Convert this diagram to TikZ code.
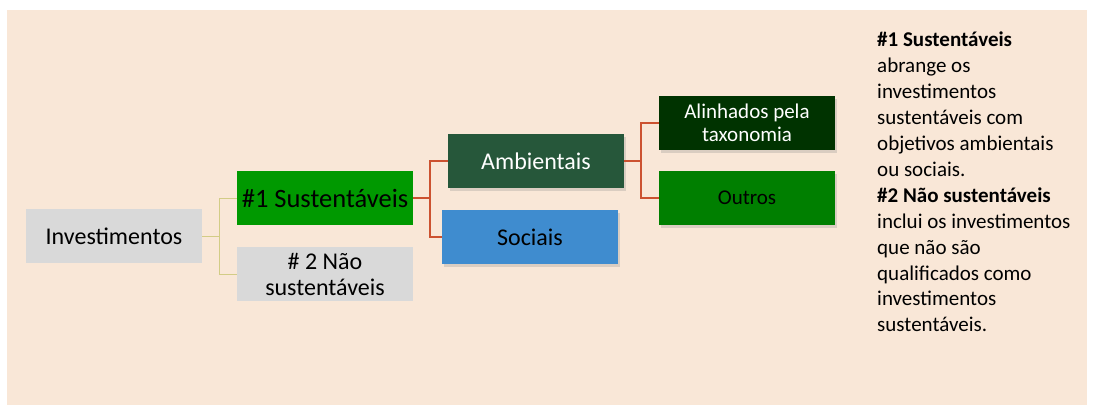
\documentclass[tikz,border=0pt]{standalone}
\usepackage{fontspec}
\setmainfont{Carlito}
\usetikzlibrary{shadows}
\definecolor{fundo}{HTML}{F9E7D7}
\definecolor{cinza}{HTML}{D9D9D9}
\definecolor{verde}{HTML}{009900}
\definecolor{verdeesc}{HTML}{26573A}
\definecolor{verdetax}{HTML}{003300}
\definecolor{verdeout}{HTML}{007F00}
\definecolor{azul}{HTML}{3F8CCF}
\definecolor{ramo}{HTML}{CC5230}
\definecolor{ramoinv}{HTML}{D2CC86}
\begin{document}
\begin{tikzpicture}[x=1pt,y=-1pt,
every node/.style={execute at begin node={\spaceskip=0.226em plus 0.05em}},
caixa/.style={minimum width=176pt,minimum height=54pt,inner sep=1pt,
align=center,font=\fontsize{24}{26}\selectfont},
sombra/.style={drop shadow={shadow xshift=2pt,shadow yshift=-3pt,opacity=0.25}},
ligacao/.style={draw=ramo,line width=1.6pt},
ligacaoinv/.style={draw=ramoinv,line width=1pt}]
\useasboundingbox (0,0) rectangle (1094,406);
\fill[fundo] (7,10) rectangle (1087,405);

\node[caixa,fill=cinza] (inv) at (114,236) {Investimentos};
\node[caixa,fill=verde,font=\fontsize{26.5}{28}\selectfont] (sus1) at (325,198) {\#1 Sustentáveis};
\node[caixa,fill=cinza] (sus2) at (325,274) {\# 2 Não\\sustentáveis};
\node[caixa,fill=verdeesc,text=white,sombra] (amb) at (536,161) {Ambientais};
\node[caixa,fill=azul,sombra] (soc) at (530,237) {Sociais};
\node[caixa,fill=verdetax,text=white,sombra,font=\fontsize{21}{23.5}\selectfont] (alin) at (747,123) {Alinhados pela\\taxonomia};
\node[caixa,fill=verdeout,sombra,font=\fontsize{21}{23.5}\selectfont] (outros) at (747,198) {Outros};

\draw[ligacaoinv] (inv.east) -- ++(right:17pt) |- (sus1.west);
\draw[ligacaoinv] (inv.east) -- ++(right:17pt) |- (sus2.west);
\draw[ligacao] (sus1.east) -- ++(right:17pt) |- (amb.west);
\draw[ligacao] (sus1.east) -- ++(right:17pt) |- (soc.west);
\draw[ligacao] (amb.east) -- ++(right:17pt) |- (alin.west);
\draw[ligacao] (amb.east) -- ++(right:17pt) |- (outros.west);

% nota do lado direito
\node[anchor=north west,inner sep=0pt,text width=210pt,align=left,
font=\fontsize{21}{25.9}\selectfont] (nota) at (877,32)
{\textbf{\#1 Sustentáveis}\\abrange os\\investimentos\\sustentáveis com\\objetivos ambientais\\ou sociais.\\
\textbf{\#2 Não sustentáveis}\\inclui os investimentos\\que não são\\qualificados como\\investimentos\\sustentáveis.};
\end{tikzpicture}
\end{document}
